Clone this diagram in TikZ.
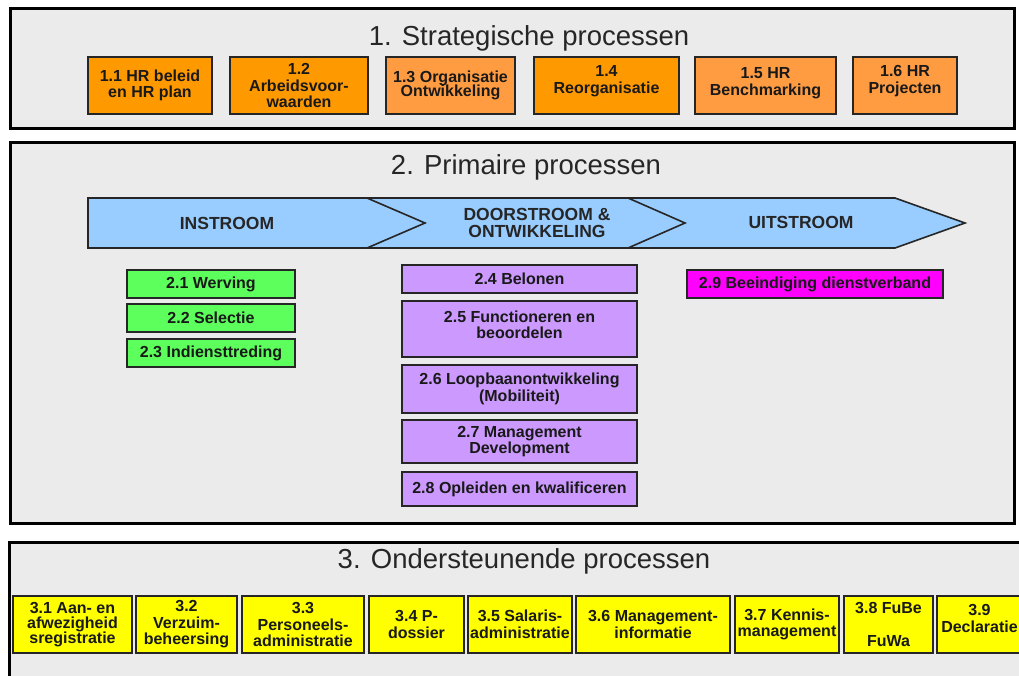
\documentclass[tikz,border=0pt]{standalone}
\usepackage{fontspec}
\setmainfont{Liberation Sans}
\definecolor{panelgray}{HTML}{EBEBEB}
\definecolor{hrorange}{HTML}{FF9900}
\definecolor{hrorangelight}{HTML}{FF9C42}
\definecolor{hrgreen}{HTML}{5CFF5C}
\definecolor{hrpurple}{HTML}{CC99FF}
\definecolor{hrmagenta}{HTML}{FF00FF}
\definecolor{hryellow}{HTML}{FFFF00}
\definecolor{hrblue}{HTML}{99CCFF}
\begin{document}
\begin{tikzpicture}[x=1pt,y=-1pt,
	panel/.style = {draw=black, line width=3pt, fill=panelgray},
	title/.style = {anchor=base, font=\fontsize{27.5}{30}\selectfont, text=black!85},
	flow label/.style = {align=center, font=\bfseries\fontsize{17.5}{17}\selectfont, text=black!85},
	box/.style = {draw=black!85, line width=1.6pt, align=center, inner sep=0pt,
		text=black!90, font=\bfseries\fontsize{16}{16.5}\selectfont},
	strat node/.style = {box, fill=hrorange, minimum height=57pt},
	in node/.style = {box, fill=hrgreen, minimum width=168pt, minimum height=28pt},
	door node/.style = {box, fill=hrpurple, minimum width=235pt},
	uit node/.style = {box, fill=hrmagenta, minimum width=256pt, minimum height=28pt},
	ond node/.style = {box, fill=hryellow, minimum height=57pt}]
	\useasboundingbox (0,0) rectangle (1019,675);
	\clip (0,0) rectangle (1019,675);
	\fill[white] (0,0) rectangle (1019,675);

	\draw[panel] (10,8) rectangle (1014,128);
	\draw[panel] (10,142) rectangle (1014,523);
	\draw[panel] (9,542) rectangle (1040,700);

	\node[title] (t1) at (529,45) {1. Strategische processen};
	\node[title] (t2) at (526,174) {2. Primaire processen};
	\node[title] (t3) at (524,568) {3. Ondersteunende processen};

	\node[strat node,minimum width=124pt] (11) at (150,85.5) {1.1 HR beleid\\en HR plan};
	\node[strat node,minimum width=138pt] (12) at (299,85.5) {1.2\\Arbeidsvoor-\\waarden};
	\node[strat node,minimum width=129pt,fill=hrorangelight] (13) at (450.5,85.5) {1.3 Organisatie\\[-2pt]Ontwikkeling};
	\node[strat node,minimum width=145pt] (14) at (606.5,85.5) {1.4\\Reorganisatie\\[-4pt]};
	\node[strat node,minimum width=141pt,fill=hrorangelight] (15) at (765.5,85.5) {1.5 HR\\Benchmarking\\[-8pt]};
	\node[strat node,minimum width=104pt,fill=hrorangelight] (16) at (905,85.5) {1.6 HR\\Projecten\\[-4pt]};

	\draw[draw=black!85, line width=1.6pt, fill=hrblue]
		(88,198) -- (895,198) -- (965,223) -- (895,248) -- (88,248) -- cycle;
	\draw[black!85, line width=1.6pt] (367,198) -- (425,223) -- (367,248);
	\draw[black!85, line width=1.6pt] (628,198) -- (685,223) -- (628,248);
	\node[flow label] (instroom) at (227,223) {INSTROOM};
	\node[flow label] (doorstroom) at (537,223) {DOORSTROOM \&\\ONTWIKKELING};
	\node[flow label] (uitstroom) at (801,222) {UITSTROOM};

	\node[in node] (21) at (211,284) {2.1 Werving};
	\node[in node] (22) at (211,318) {2.2 Selectie};
	\node[in node] (23) at (211,353) {2.3 Indiensttreding};

	\node[door node,minimum height=28pt] (24) at (519.5,279) {2.4 Belonen};
	\node[door node,minimum height=56pt] (25) at (519.5,329) {2.5 Functioneren en\\beoordelen\\[-8pt]};
	\node[door node,minimum height=48pt] (26) at (519.5,389) {2.6 Loopbaanontwikkeling\\(Mobiliteit)};
	\node[door node,minimum height=43pt] (27) at (519.5,441.5) {2.7 Management\\Development};
	\node[door node,minimum height=34pt] (28) at (519.5,489) {2.8 Opleiden en kwalificeren};

	\node[uit node] (29) at (815,284) {2.9 Beeindiging dienstverband};

	\node[ond node,minimum width=119pt] (31) at (72.5,624.5) {3.1 Aan- en\\[-1.5pt]afwezigheid\\[-1.5pt]sregistratie};
	\node[ond node,minimum width=101pt] (32) at (186.5,624.5) {3.2\\Verzuim-\\beheersing};
	\node[ond node,minimum width=122pt] (33) at (303,624.5) {3.3\\Personeels-\\administratie};
	\node[ond node,minimum width=95pt] (34) at (416.5,624.5) {3.4 P-\\dossier};
	\node[ond node,minimum width=104pt] (35) at (520,624.5) {3.5 Salaris-\\administratie};
	\node[ond node,minimum width=154pt] (36) at (653,624.5) {3.6 Management-\\informatie};
	\node[ond node,minimum width=104pt] (37) at (787,624.5) {3.7 Kennis-\\management};
	\node[ond node,minimum width=89pt] (38) at (888.5,624.5) {3.8 FuBe\\[16.5pt]FuWa};
	\node[ond node,minimum width=85pt] (39) at (979.5,624.5) {3.9\\Declaratie\\[-4pt]};
\end{tikzpicture}
\end{document}
